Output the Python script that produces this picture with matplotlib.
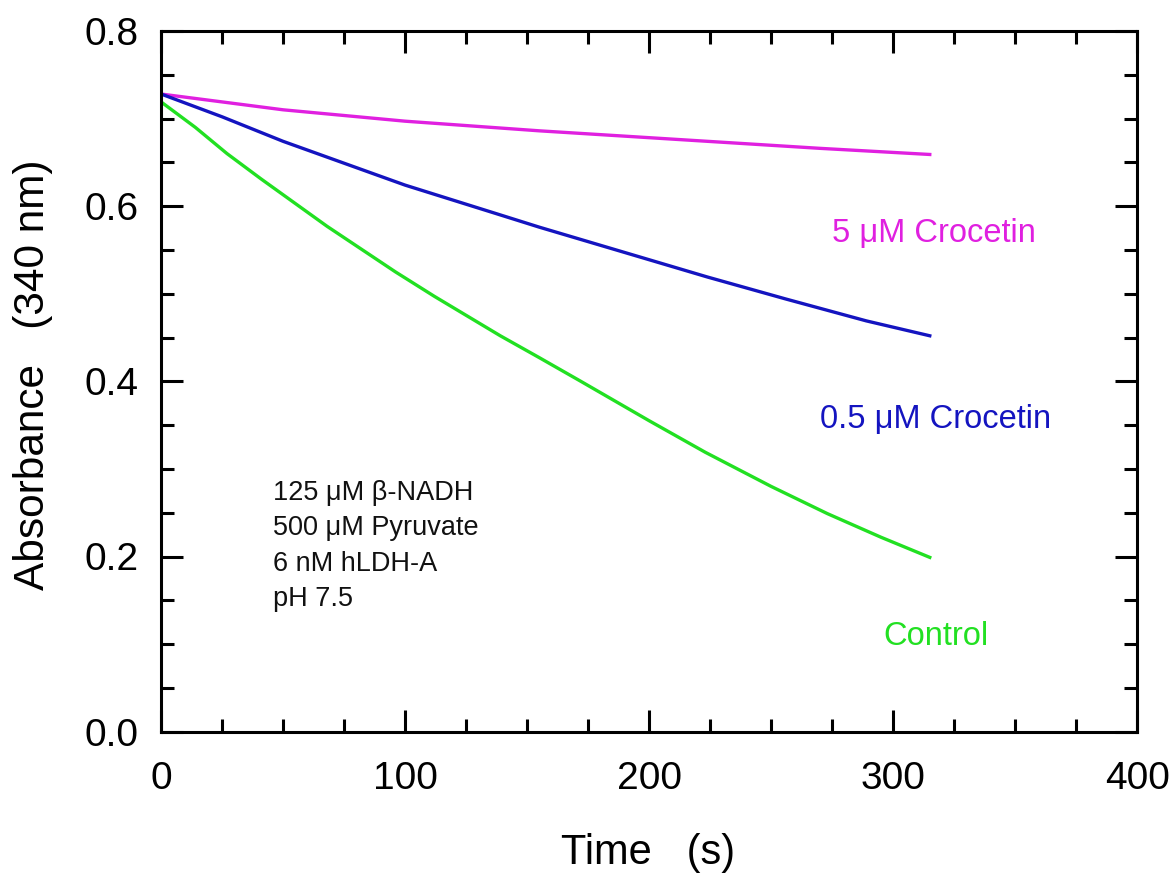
import numpy as np
import matplotlib
matplotlib.use("Agg")
from matplotlib import pyplot as plt
from matplotlib.ticker import MultipleLocator

plt.rcParams['font.family'] = ['Liberation Sans', 'DejaVu Sans']

##########
## Data ##
##########
# time [s], absorbance at 340 nm
t_control = [0, 14, 27, 41, 55, 68, 82, 96, 112, 139, 155, 172, 200, 223, 250, 273, 295, 315]
a_control = [0.719, 0.690, 0.660, 0.631, 0.603, 0.577, 0.551, 0.525, 0.497, 0.452,
             0.427, 0.400, 0.355, 0.319, 0.280, 0.249, 0.222, 0.199]

t_croc05 = [0, 25, 50, 100, 139, 155, 224, 256, 289, 315]
a_croc05 = [0.728, 0.702, 0.674, 0.624, 0.590, 0.576, 0.519, 0.494, 0.469, 0.452]

t_croc5 = [0, 25, 50, 100, 155, 224, 270, 315]
a_croc5 = [0.728, 0.719, 0.710, 0.697, 0.686, 0.674, 0.666, 0.659]

conditions = ["125 \u03bcM \u03b2-NADH", "500 \u03bcM Pyruvate", "6 nM hLDH-A", "pH 7.5"]

c_magenta = '#e020e0'
c_blue = '#1414c0'
c_green = '#22e022'

##############
## Plotting ##
##############
fig = plt.figure(figsize=(11.76, 8.75), dpi=100)
ax = fig.add_axes([0.137, 0.1638, 0.830, 0.8008])

ax.plot(t_croc5, a_croc5, color=c_magenta, lw=2.4)
ax.plot(t_croc05, a_croc05, color=c_blue, lw=2.4)
ax.plot(t_control, a_control, color=c_green, lw=2.4)

ax.text(275, 0.569, "5 \u03bcM Crocetin", color=c_magenta, fontsize=23.5, va='center')
ax.text(270, 0.356, "0.5 \u03bcM Crocetin", color=c_blue, fontsize=23.5, va='center')
ax.text(296, 0.109, "Control", color=c_green, fontsize=23.5, va='center')

for i, line in enumerate(conditions):
    ax.text(46, 0.272 - i*0.04, line, color='#111111', fontsize=19.5, va='center')

ax.set_xlim(0, 400)
ax.set_ylim(0, 0.8)
ax.xaxis.set_major_locator(MultipleLocator(100))
ax.xaxis.set_minor_locator(MultipleLocator(25))
ax.yaxis.set_major_locator(MultipleLocator(0.2))
ax.yaxis.set_minor_locator(MultipleLocator(0.05))
ax.yaxis.set_major_formatter(matplotlib.ticker.FormatStrFormatter('%.1f'))

ax.tick_params(which='both', direction='in', top=True, right=True, width=2.2)
ax.tick_params(which='major', length=16)
ax.tick_params(which='minor', length=9.5)
ax.tick_params(axis='x', which='major', labelsize=28, pad=21)
ax.tick_params(axis='y', which='major', labelsize=28, pad=16)
for sp in ax.spines.values():
    sp.set_linewidth(2.2)

ax.set_xlabel("Time   (s)", fontsize=30)
ax.set_ylabel("Absorbance   (340 nm)", fontsize=30.5)
ax.xaxis.set_label_coords(0.4985, -0.145)
ax.yaxis.set_label_coords(-0.111, 0.509)

plt.savefig('out.png', dpi=100)
